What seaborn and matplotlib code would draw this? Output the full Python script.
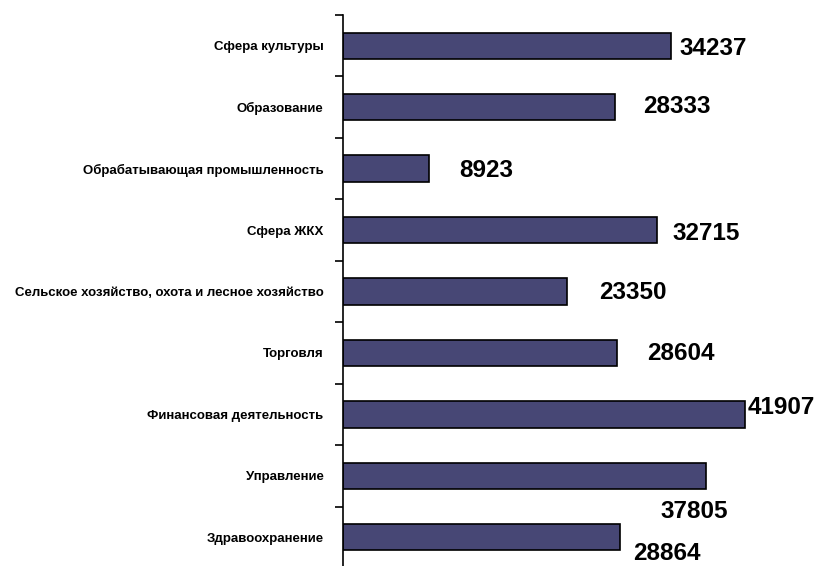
import numpy as np
import pandas as pd
import matplotlib
matplotlib.use("Agg")
import matplotlib.pyplot as plt
import matplotlib.transforms as mtransforms
import seaborn as sns
from matplotlib import font_manager

categories = [
    "Сфера культуры",
    "Образование",
    "Обрабатывающая промышленность",
    "Сфера ЖКХ",
    "Сельское хозяйство, охота и лесное хозяйство",
    "Торговля",
    "Финансовая деятельность",
    "Управление",
    "Здравоохранение",
]
values = [34237, 28333, 8923, 32715, 23350, 28604, 41907, 37805, 28864]

# label offsets (pixels) relative to bar end / bar centre
label_dx = [8, 28, 31, 16, 32, 30, 3, -45, 13]
label_dy = [0, -3, -1, 1, -2, -2, -9, 33, 14]

sns.set_theme(style="white")
names = {f.name for f in font_manager.fontManager.ttflist}
narrow = "Liberation Sans Narrow" if "Liberation Sans Narrow" in names else "Liberation Sans"
plt.rcParams["font.family"] = ["Liberation Sans", "DejaVu Sans"]

df = pd.DataFrame({"cat": categories, "val": values})

fig = plt.figure(figsize=(8.19, 5.66), dpi=100)
ax = fig.add_axes([343 / 819, -2 / 566, 1 - 343 / 819, 553 / 566])

sns.barplot(data=df, x="val", y="cat", orient="h", color="#474775",
            width=0.43, edgecolor="black", linewidth=1.2, saturation=1, ax=ax)

ax.set_xlim(0, 49630)
ax.set_ylim(8.5, -0.5)
ax.set_xlabel("")
ax.set_ylabel("")
ax.set_xticks([])
for s in ["top", "right", "bottom"]:
    ax.spines[s].set_visible(False)
ax.spines["left"].set_color("black")
ax.spines["left"].set_linewidth(1.2)

ax.set_yticks(range(len(categories)))
ax.set_yticklabels(categories, fontfamily=[narrow, "DejaVu Sans"], fontweight="bold", fontsize=9.5)
ax.tick_params(axis="y", which="major", length=0, pad=14, colors="black")
ax.set_yticks(np.arange(-0.5, len(categories), 1), minor=True)
ax.tick_params(axis="y", which="minor", length=6, width=1.2, direction="out", color="black", left=True)

for i, v in enumerate(values):
    off = mtransforms.offset_copy(ax.transData, fig=fig, x=label_dx[i] * 0.72,
                                  y=-label_dy[i] * 0.72, units="points")
    ax.text(v, i, str(v), transform=off, ha="left", va="center_baseline",
            fontsize=17.5, fontweight="bold", color="black")

fig.savefig("out.png", dpi=100)
